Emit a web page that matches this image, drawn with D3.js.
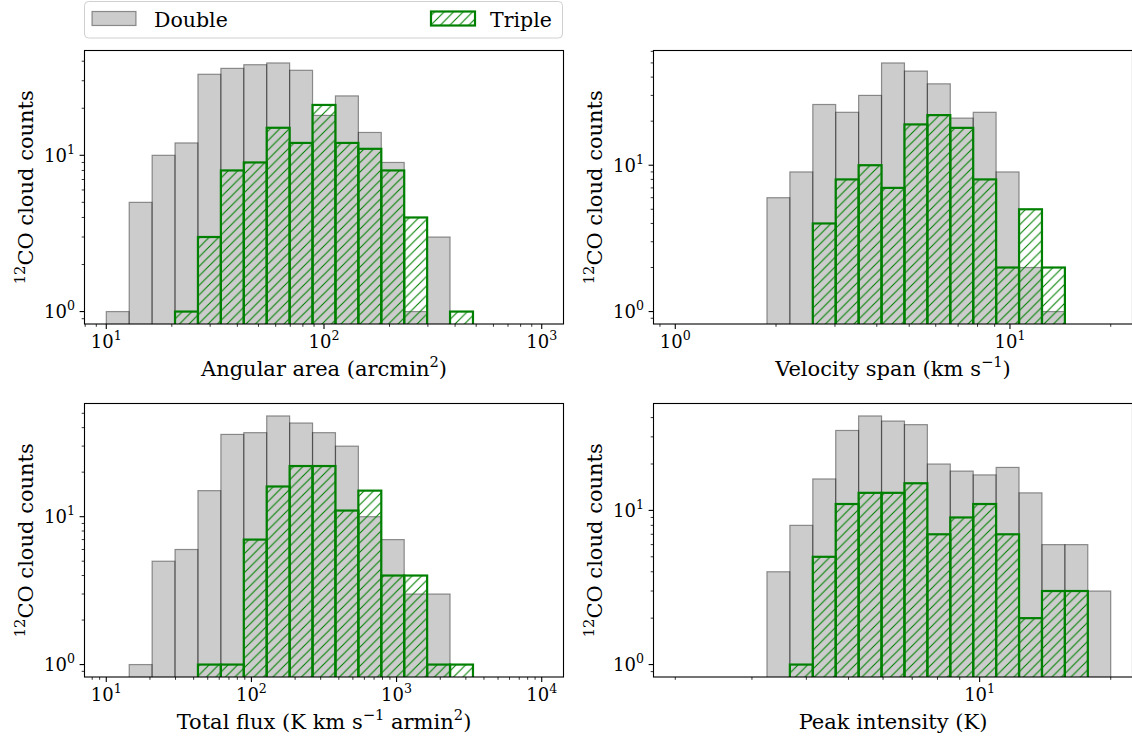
<!DOCTYPE html>
<html>
<head>
<meta charset="utf-8">
<script src="https://cdn.jsdelivr.net/npm/d3@7"></script>
<style>
  body { margin: 0; background: #fff; }
  svg { display: block; }
  text { font-family: "DejaVu Serif", serif; fill: #000; }
</style>
</head>
<body>
<svg id="fig" width="1132" height="742"></svg>
<script>
// Histogram bin ranges (19 log-spaced bins between the two limits)
const angularRange = [10, 1000];
const velocityRange = [1, 20];
const fluxRange = [10, 10000];
const peakRange = [2, 20];

// Cloud counts per bin: clouds with double / triple velocity components
const angularDouble = [1, 5, 10, 12, 33, 36, 38, 39, 35, 18, 24, 14, 9, 1, 3, 0, 0, 0, 0];
const angularTriple = [0, 0, 0, 1, 3, 8, 9, 15, 12, 21, 12, 11, 8, 4, 0, 1, 0, 0, 0];

const velocityDouble = [0, 0, 0, 0, 6, 9, 26, 23, 30, 50, 44, 36, 21, 23, 9, 2, 1, 0, 0];
const velocityTriple = [0, 0, 0, 0, 0, 0, 4, 8, 10, 7, 19, 22, 18, 8, 2, 5, 2, 0, 0];

const fluxDouble = [0, 1, 5, 6, 15, 36, 37, 48, 43, 37, 30, 10, 7, 3, 3, 0, 0, 0, 0];
const fluxTriple = [0, 0, 0, 0, 1, 1, 7, 16, 22, 22, 11, 15, 4, 4, 1, 1, 0, 0, 0];

const peakDouble = [0, 0, 0, 0, 4, 8, 16, 33, 41, 38, 36, 20, 18, 17, 19, 13, 6, 6, 3];
const peakTriple = [0, 0, 0, 0, 0, 1, 5, 11, 13, 13, 15, 7, 9, 11, 7, 2, 3, 3, 0];

// Axis titles (plain runs and superscript runs)
const angularLabel = [["Angular area (arcmin"], ["2", "sup"], [")"]];
const velocityLabel = [["Velocity span (km s"], ["\u22121", "sup"], [")"]];
const fluxLabel = [["Total flux (K km s"], ["\u22121", "sup"], [" armin"], ["2", "sup"], [")"]];
const peakLabel = [["Peak intensity (K)"]];
const countLabel = [["12", "sup"], ["CO cloud counts"]];

const seriesNames = ["Double", "Triple"];

const NBINS = 19;
const GREEN = "#008000";
const GRAY_FILL = "rgba(128,128,128,0.4)";
const GRAY_EDGE = "rgba(0,0,0,0.4)";
const TICK_FONT = 18;
const LABEL_FONT = 21;

const svg = d3.select("#fig");
const defs = svg.append("defs");

// '//' hatch used by the triple histogram
const H = 9.5;
defs.append("pattern")
  .attr("id", "hatch")
  .attr("patternUnits", "userSpaceOnUse")
  .attr("width", H).attr("height", H)
  .append("path")
  .attr("d", `M0,${H} L${H},0 M${-H/2},${H/2} L${H/2},${-H/2} M${H/2},${H*1.5} L${H*1.5},${H/2}`)
  .attr("stroke", GREEN)
  .attr("stroke-width", 1.1)
  .attr("fill", "none");

function rich(g, x, y, parts, size, raise, anchor) {
  const t = g.append("text")
    .attr("x", x).attr("y", y)
    .attr("font-size", size)
    .attr("text-anchor", anchor || "start");
  let up = false;
  parts.forEach(([s, kind]) => {
    const ts = t.append("tspan").text(s);
    if (kind === "sup") {
      ts.attr("font-size", size * 0.7);
      if (!up) ts.attr("dy", -raise);
      up = true;
    } else {
      if (up) ts.attr("dy", raise);
      up = false;
    }
  });
  return t;
}

const panels = [
  { id: "p1", left: 84.5, top: 50.5, range: angularRange, dbl: angularDouble, tpl: angularTriple, xlabel: angularLabel },
  { id: "p2", left: 653.5, top: 50.5, range: velocityRange, dbl: velocityDouble, tpl: velocityTriple, xlabel: velocityLabel },
  { id: "p3", left: 84.5, top: 403.5, range: fluxRange, dbl: fluxDouble, tpl: fluxTriple, xlabel: fluxLabel },
  { id: "p4", left: 653.5, top: 403.5, range: peakRange, dbl: peakDouble, tpl: peakTriple, xlabel: peakLabel }
];
const W = 479, Ht = 273.5;

panels.forEach(p => {
  const L0 = Math.log10(p.range[0]), L1 = Math.log10(p.range[1]);
  const xm = 0.05 * (L1 - L0);
  const x = d3.scaleLog()
    .domain([Math.pow(10, L0 - xm), Math.pow(10, L1 + xm)])
    .range([p.left, p.left + W]);
  const ymax = Math.log10(d3.max(p.dbl.concat(p.tpl)));
  const y = d3.scaleLog()
    .domain([Math.pow(10, -0.05 * ymax), Math.pow(10, 1.05 * ymax)])
    .range([p.top + Ht, p.top]);

  const edges = d3.range(NBINS + 1).map(i => Math.pow(10, L0 + i * (L1 - L0) / NBINS));
  const bottom = p.top + Ht;

  const g = svg.append("g");
  defs.append("clipPath").attr("id", "clip-" + p.id)
    .append("rect").attr("x", p.left).attr("y", p.top).attr("width", W).attr("height", Ht);

  const plot = g.append("g").attr("clip-path", `url(#clip-${p.id})`);

  const binsOf = arr => arr.map((c, i) => ({ c, x0: edges[i], x1: edges[i + 1] })).filter(d => d.c > 0);

  // Double: translucent gray bars
  plot.selectAll("rect.dbl").data(binsOf(p.dbl)).join("rect")
    .attr("class", "dbl")
    .attr("x", d => x(d.x0))
    .attr("width", d => x(d.x1) - x(d.x0))
    .attr("y", d => y(d.c))
    .attr("height", d => bottom + 10 - y(d.c))
    .attr("fill", GRAY_FILL)
    .attr("stroke", GRAY_EDGE)
    .attr("stroke-width", 1.2);

  // Triple: hatched, green-edged bars
  plot.selectAll("rect.tpl").data(binsOf(p.tpl)).join("rect")
    .attr("class", "tpl")
    .attr("x", d => x(d.x0))
    .attr("width", d => x(d.x1) - x(d.x0))
    .attr("y", d => y(d.c))
    .attr("height", d => bottom + 10 - y(d.c))
    .attr("fill", "url(#hatch)")
    .attr("stroke", GREEN)
    .attr("stroke-width", 2.2);

  // Ticks
  const [xd0, xd1] = x.domain();
  const [yd0, yd1] = y.domain();
  const logTicks = (a, b) => {
    const major = [], minor = [];
    for (let k = Math.floor(Math.log10(a)) - 1; k <= Math.ceil(Math.log10(b)); k++) {
      for (let m = 1; m <= 9; m++) {
        const v = m * Math.pow(10, k);
        if (v < a || v > b) continue;
        (m === 1 ? major : minor).push({ v, k });
      }
    }
    return { major, minor };
  };

  const xt = logTicks(xd0, xd1);
  const yt = logTicks(yd0, yd1);
  const ax = g.append("g");

  xt.minor.forEach(t => ax.append("line")
    .attr("x1", x(t.v)).attr("x2", x(t.v)).attr("y1", bottom).attr("y2", bottom + 2.8)
    .attr("stroke", "#000").attr("stroke-width", 0.8));
  xt.major.forEach(t => {
    ax.append("line")
      .attr("x1", x(t.v)).attr("x2", x(t.v)).attr("y1", bottom).attr("y2", bottom + 4.9)
      .attr("stroke", "#000").attr("stroke-width", 1.1);
    rich(ax, x(t.v), bottom + 23.5, [["10"], [String(t.k), "sup"]], TICK_FONT, 8, "middle");
  });

  yt.minor.forEach(t => ax.append("line")
    .attr("x1", p.left - 2.8).attr("x2", p.left).attr("y1", y(t.v)).attr("y2", y(t.v))
    .attr("stroke", "#000").attr("stroke-width", 0.8));
  yt.major.forEach(t => {
    ax.append("line")
      .attr("x1", p.left - 4.9).attr("x2", p.left).attr("y1", y(t.v)).attr("y2", y(t.v))
      .attr("stroke", "#000").attr("stroke-width", 1.1);
    rich(ax, p.left - 9.5, y(t.v) + 6.5, [["10"], [String(t.k), "sup"]], TICK_FONT, 8, "end");
  });

  // Frame
  g.append("rect")
    .attr("x", p.left).attr("y", p.top).attr("width", W).attr("height", Ht)
    .attr("fill", "none").attr("stroke", "#000").attr("stroke-width", 1.1);

  // Axis titles
  rich(g, p.left + W / 2, bottom + 51.5, p.xlabel, LABEL_FONT, 8.5, "middle");
  const yl = g.append("g").attr("transform", `translate(${p.left - 51.5},${p.top + Ht / 2}) rotate(-90)`);
  rich(yl, 0, 0, countLabel, LABEL_FONT, 8.5, "middle");
});

// Legend above the first panel
const lg = svg.append("g");
lg.append("rect")
  .attr("x", 84.5).attr("y", 1.5).attr("width", 478).attr("height", 36.5)
  .attr("rx", 4).attr("ry", 4)
  .attr("fill", "#fff").attr("stroke", "#d0d0d0").attr("stroke-width", 1);
lg.append("rect")
  .attr("x", 92).attr("y", 11.5).attr("width", 44).attr("height", 14)
  .attr("fill", GRAY_FILL).attr("stroke", GRAY_EDGE).attr("stroke-width", 1.2);
lg.append("text").attr("x", 154).attr("y", 26.5).attr("font-size", 20.5).text(seriesNames[0]);
lg.append("rect")
  .attr("x", 431).attr("y", 11.5).attr("width", 44).attr("height", 14)
  .attr("fill", "url(#hatch)").attr("stroke", GREEN).attr("stroke-width", 2.2);
lg.append("text").attr("x", 490).attr("y", 26.5).attr("font-size", 20.5).text(seriesNames[1]);
</script>
</body>
</html>
